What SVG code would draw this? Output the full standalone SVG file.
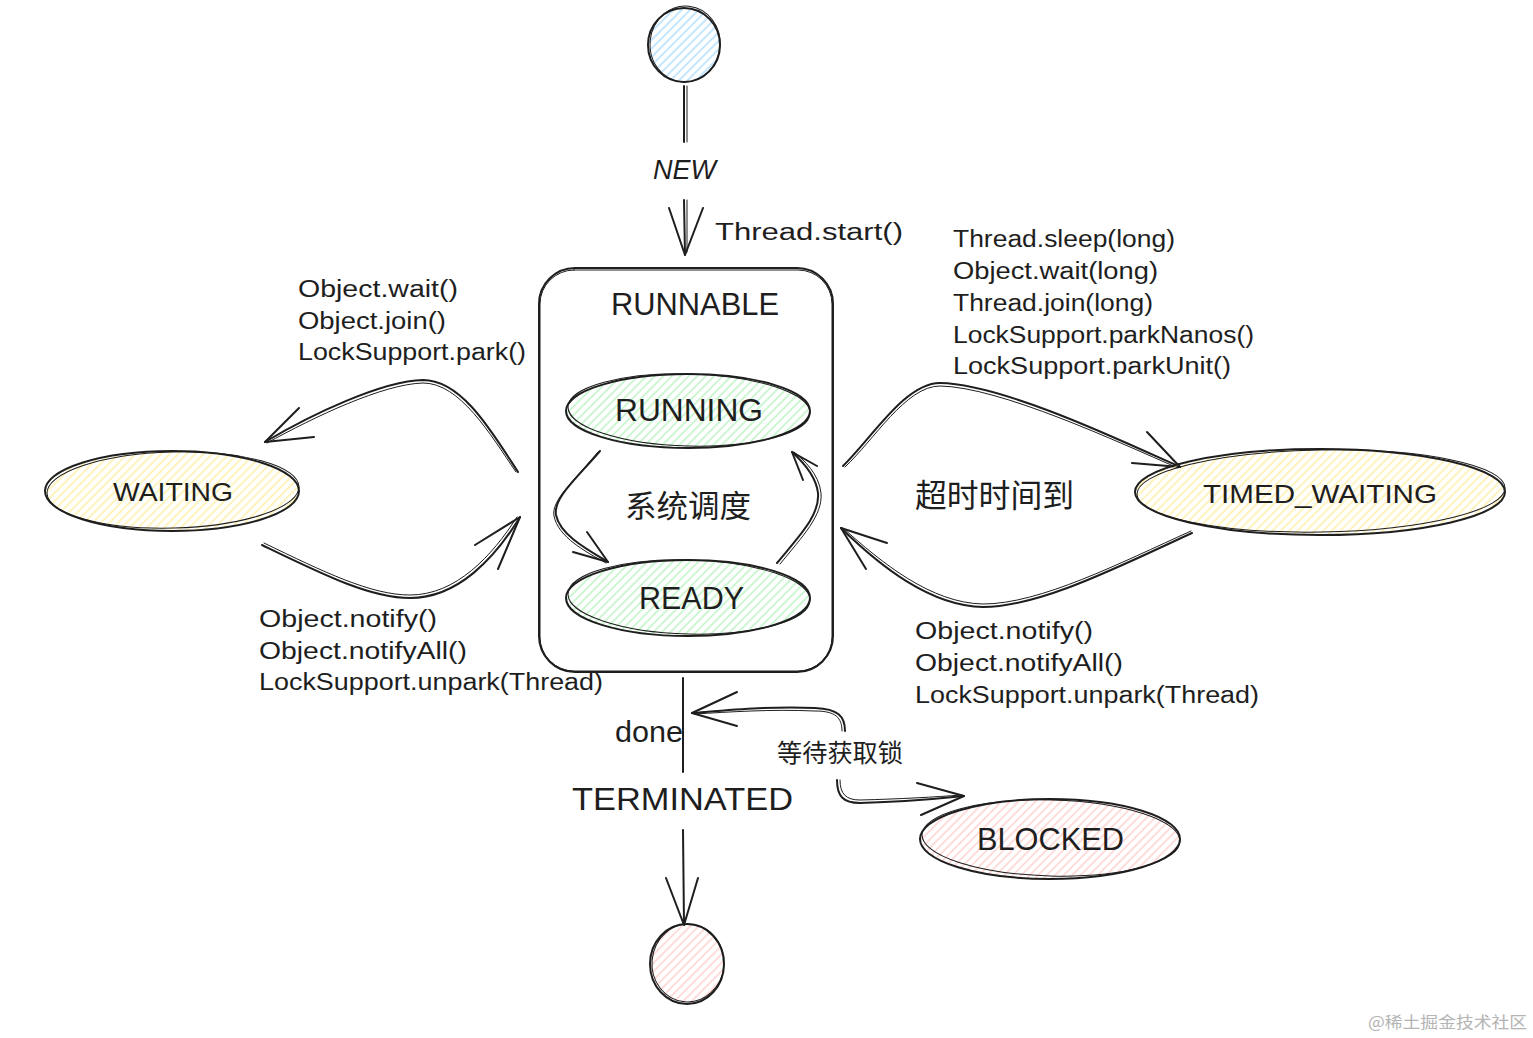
<svg xmlns="http://www.w3.org/2000/svg" width="1533" height="1038" viewBox="0 0 1533 1038">
<defs>
<pattern id="hBlue" patternUnits="userSpaceOnUse" width="6" height="6" patternTransform="rotate(-45)"><line x1="0" y1="3" x2="6" y2="3" stroke="#a5d8ff" stroke-width="1.3"/></pattern>
<pattern id="hGreen" patternUnits="userSpaceOnUse" width="6" height="6" patternTransform="rotate(-45)"><line x1="0" y1="3" x2="6" y2="3" stroke="#b2f2bb" stroke-width="1.3"/></pattern>
<pattern id="hYellow" patternUnits="userSpaceOnUse" width="6" height="6" patternTransform="rotate(-45)"><line x1="0" y1="3" x2="6" y2="3" stroke="#ffec99" stroke-width="1.3"/></pattern>
<pattern id="hPink" patternUnits="userSpaceOnUse" width="6" height="6" patternTransform="rotate(-45)"><line x1="0" y1="3" x2="6" y2="3" stroke="#ffc9c9" stroke-width="1.3"/></pattern>
</defs>
<style>
.o{fill:none;stroke:#1e1e1e;stroke-width:2;stroke-linecap:round;stroke-linejoin:round}
.o2{fill:none;stroke:#1e1e1e;stroke-width:1;stroke-linecap:round}
.ln{fill:none;stroke:#1e1e1e;stroke-width:2;stroke-linecap:round;stroke-linejoin:round}
.ln2{fill:none;stroke:#1e1e1e;stroke-width:1;stroke-linecap:round}
.t{font-family:"Liberation Sans","Noto Sans CJK SC",sans-serif;fill:#1e1e1e}
.cn{font-family:"Noto Sans CJK SC","Noto Sans",sans-serif;fill:#1e1e1e}
.lbl{font-size:23px}
</style>
<rect width="1533" height="1038" fill="#ffffff"/>

<g id="connectors">
  <!-- start to NEW -->
  <path class="ln" d="M684,86 L684,142"/>
  <path class="ln2" d="M687,86 L687,142"/>
  <!-- NEW to RUNNABLE -->
  <path class="ln" d="M684,200 L685,255"/>
  <path class="ln2" d="M687,200 L687,252"/>
  <path class="ln" d="M669,208 L685,255 L703,208"/>
  <!-- RUNNING to READY -->
  <path class="ln" d="M600,451 C577,478 553,498 556,515 C560,535 588,550 608,562"/>
  <path class="ln2" d="M598,452 C575,480 551,500 554,516 C558,537 586,552 606,563"/>
  <path class="ln" d="M573,552 L608,562 L587,532"/>
  <!-- READY to RUNNING -->
  <path class="ln" d="M777,563 C800,535 820,515 818,493 C816,475 802,461 792,452"/>
  <path class="ln2" d="M780,564 C803,536 823,515 821,493 C819,474 804,460 794,452"/>
  <path class="ln" d="M817,466 L792,452 L803,480"/>
  <!-- RUNNABLE to WAITING -->
  <path class="ln" d="M518,472 C492,432 462,380 423,380 C382,381 312,414 265,442"/>
  <path class="ln2" d="M516,472 C490,434 460,383 423,383 C383,384 314,417 267,443"/>
  <path class="ln" d="M299,408 L265,442 L314,437"/>
  <!-- WAITING to RUNNABLE -->
  <path class="ln" d="M262,545 C322,574 370,598 410,598 C458,598 495,558 520,517"/>
  <path class="ln2" d="M264,543 C324,572 371,595 410,595 C456,595 492,556 517,517"/>
  <path class="ln" d="M475,545 L520,517 L498,569"/>
  <!-- RUNNABLE to TIMED_WAITING -->
  <path class="ln" d="M843,466 C872,438 905,383 940,383 C1002,384 1120,440 1180,467"/>
  <path class="ln2" d="M845,467 C874,440 906,386 940,386 C1000,387 1118,442 1178,468"/>
  <path class="ln" d="M1147,432 L1180,467 L1132,463"/>
  <!-- TIMED_WAITING to RUNNABLE -->
  <path class="ln" d="M1192,533 C1120,566 1040,607 983,607 C930,606 880,566 841,528"/>
  <path class="ln2" d="M1191,531 C1120,563 1040,604 983,604 C931,603 882,563 843,528"/>
  <path class="ln" d="M887,543 L841,528 L866,569"/>
  <!-- RUNNABLE to TERMINATED (done) -->
  <path class="ln" d="M683,678 L683,772"/>
  <!-- TERMINATED to end -->
  <path class="ln" d="M683,830 L684,925"/>
  <path class="ln" d="M666,878 L684,925 L698,878"/>
  <!-- BLOCKED loop -->
  <path class="ln" d="M845,731 C845,716 838,709 815,708 C770,706 730,710 692,713"/>
  <path class="ln2" d="M842,731 C842,718 836,711 815,711 C770,709 730,712 694,714"/>
  <path class="ln" d="M737,692 L692,713 L737,726"/>
  <path class="ln" d="M837,780 C837,796 843,803 860,803 C900,802 935,799 964,796"/>
  <path class="ln2" d="M840,780 C840,794 846,800 860,800 C900,799 935,797 962,795"/>
  <path class="ln" d="M917,783 L964,796 L921,815"/>
</g>

<g id="start">
  <ellipse cx="684" cy="45" rx="36" ry="37" fill="url(#hBlue)"/>
  <ellipse class="o" cx="684" cy="45" rx="36" ry="37"/>
  <ellipse class="o2" cx="685" cy="44" rx="35" ry="38" transform="rotate(6 685 44)"/>
</g>

<g id="new-label">
  <text class="t" x="653" y="179" font-size="28" font-style="italic" textLength="63" lengthAdjust="spacingAndGlyphs">NEW</text>
  <text class="t lbl" x="715" y="240" textLength="188" lengthAdjust="spacingAndGlyphs">Thread.start()</text>
</g>

<g id="runnable">
  <rect class="o" x="539" y="268" width="294" height="404" rx="36"/>
  <rect class="o2" x="540" y="270" width="292" height="401" rx="34"/>
  <text class="t" x="611" y="315" font-size="31" textLength="168" lengthAdjust="spacingAndGlyphs">RUNNABLE</text>
  <text class="cn" x="625" y="517" font-size="31" textLength="126" lengthAdjust="spacingAndGlyphs">系统调度</text>
</g>

<g id="running">
  <ellipse cx="688" cy="411" rx="122" ry="37" fill="url(#hGreen)"/>
  <ellipse class="o" cx="688" cy="411" rx="122" ry="37"/>
  <ellipse class="o2" cx="689" cy="410" rx="121" ry="36" transform="rotate(1.5 689 410)"/>
  <text class="t" x="615" y="421" font-size="31" textLength="148" lengthAdjust="spacingAndGlyphs">RUNNING</text>
</g>

<g id="ready">
  <ellipse cx="688" cy="598" rx="122" ry="38" fill="url(#hGreen)"/>
  <ellipse class="o" cx="688" cy="598" rx="122" ry="38"/>
  <ellipse class="o2" cx="689" cy="597" rx="121" ry="37" transform="rotate(1.5 689 597)"/>
  <text class="t" x="639" y="609" font-size="31" textLength="105" lengthAdjust="spacingAndGlyphs">READY</text>
</g>

<g id="waiting">
  <ellipse cx="172" cy="491" rx="127" ry="40" fill="url(#hYellow)"/>
  <ellipse class="o" cx="172" cy="491" rx="127" ry="40"/>
  <ellipse class="o2" cx="173" cy="490" rx="126" ry="38" transform="rotate(-1.5 173 490)"/>
  <text class="t" x="113" y="501" font-size="25" textLength="120" lengthAdjust="spacingAndGlyphs">WAITING</text>
  <text class="t lbl" x="298" y="297" textLength="160" lengthAdjust="spacingAndGlyphs">Object.wait()</text>
  <text class="t lbl" x="298" y="329" textLength="148" lengthAdjust="spacingAndGlyphs">Object.join()</text>
  <text class="t lbl" x="298" y="360" textLength="228" lengthAdjust="spacingAndGlyphs">LockSupport.park()</text>
  <text class="t lbl" x="259" y="627" textLength="178" lengthAdjust="spacingAndGlyphs">Object.notify()</text>
  <text class="t lbl" x="259" y="659" textLength="208" lengthAdjust="spacingAndGlyphs">Object.notifyAll()</text>
  <text class="t lbl" x="259" y="690" textLength="344" lengthAdjust="spacingAndGlyphs">LockSupport.unpark(Thread)</text>
</g>

<g id="timed-waiting">
  <ellipse cx="1320" cy="492" rx="185" ry="43" fill="url(#hYellow)"/>
  <ellipse class="o" cx="1320" cy="492" rx="185" ry="43"/>
  <ellipse class="o2" cx="1321" cy="491" rx="184" ry="41" transform="rotate(-1 1321 491)"/>
  <text class="t" x="1203" y="503" font-size="25" textLength="234" lengthAdjust="spacingAndGlyphs">TIMED_WAITING</text>
  <text class="t lbl" x="953" y="247" textLength="222" lengthAdjust="spacingAndGlyphs">Thread.sleep(long)</text>
  <text class="t lbl" x="953" y="279" textLength="205" lengthAdjust="spacingAndGlyphs">Object.wait(long)</text>
  <text class="t lbl" x="953" y="311" textLength="200" lengthAdjust="spacingAndGlyphs">Thread.join(long)</text>
  <text class="t lbl" x="953" y="343" textLength="301" lengthAdjust="spacingAndGlyphs">LockSupport.parkNanos()</text>
  <text class="t lbl" x="953" y="374" textLength="278" lengthAdjust="spacingAndGlyphs">LockSupport.parkUnit()</text>
  <text class="cn" x="915" y="507" font-size="32" textLength="159" lengthAdjust="spacingAndGlyphs">超时时间到</text>
  <text class="t lbl" x="915" y="639" textLength="178" lengthAdjust="spacingAndGlyphs">Object.notify()</text>
  <text class="t lbl" x="915" y="671" textLength="208" lengthAdjust="spacingAndGlyphs">Object.notifyAll()</text>
  <text class="t lbl" x="915" y="703" textLength="344" lengthAdjust="spacingAndGlyphs">LockSupport.unpark(Thread)</text>
</g>

<g id="terminated-label">
  <text class="t" x="615" y="742" font-size="29" textLength="68" lengthAdjust="spacingAndGlyphs">done</text>
  <text class="t" x="572" y="810" font-size="31" textLength="221" lengthAdjust="spacingAndGlyphs">TERMINATED</text>
</g>

<g id="blocked">
  <ellipse cx="1050" cy="839" rx="130" ry="40" fill="url(#hPink)"/>
  <ellipse class="o" cx="1050" cy="839" rx="130" ry="40"/>
  <ellipse class="o2" cx="1051" cy="838" rx="129" ry="38" transform="rotate(1.5 1051 838)"/>
  <text class="t" x="977" y="850" font-size="32" textLength="147" lengthAdjust="spacingAndGlyphs">BLOCKED</text>
  <text class="cn" x="777" y="762" font-size="25" textLength="126" lengthAdjust="spacingAndGlyphs">等待获取锁</text>
</g>

<g id="end">
  <ellipse cx="687" cy="964" rx="37" ry="40" fill="url(#hPink)"/>
  <ellipse class="o" cx="687" cy="964" rx="37" ry="40"/>
  <ellipse class="o2" cx="688" cy="963" rx="36" ry="39" transform="rotate(5 688 963)"/>
</g>

<text class="cn" x="1368" y="1028" font-size="16" fill="#b4b4b4" style="fill:#b4b4b4" textLength="159" lengthAdjust="spacingAndGlyphs">@稀土掘金技术社区</text>
</svg>
